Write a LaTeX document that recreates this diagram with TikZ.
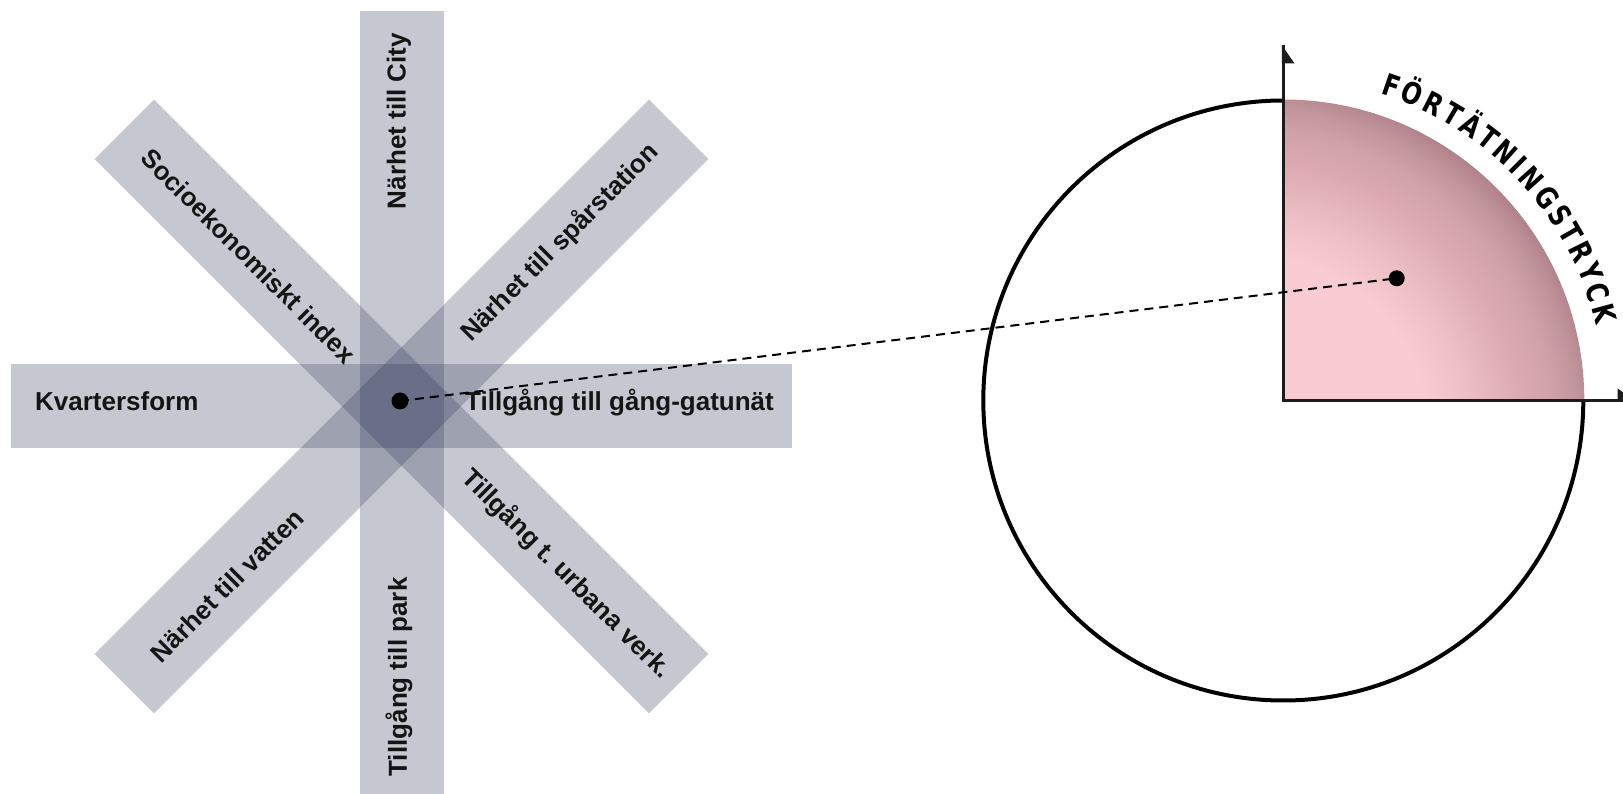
\documentclass[tikz,border=0pt]{standalone}
\usepackage{fontspec}
\setmainfont{Liberation Sans}
\newfontfamily\arcfont[FakeStretch=0.8]{DejaVu Sans}
\usetikzlibrary{decorations.text,calc}
\frenchspacing
\definecolor{barK}{RGB}{50,58,90}
\definecolor{txt}{HTML}{141414}
\definecolor{axisc}{HTML}{1C1C1C}
\definecolor{pkA}{HTML}{F9CBD2}
\definecolor{pkB}{HTML}{EDC0C6}
\definecolor{pkC}{HTML}{DCA9B1}
\definecolor{pkD}{HTML}{D0A2A9}
\definecolor{pkE}{HTML}{C1959C}
\definecolor{pkF}{HTML}{B07F88}
\pgfdeclareradialshading{pinkq}{\pgfpoint{0bp}{0bp}}{color(0bp)=(pkA); color(185bp)=(pkA); color(225bp)=(pkB); color(280bp)=(pkC); color(310bp)=(pkD); color(335bp)=(pkE); color(358bp)=(pkF); color(385bp)=(pkF)}
\begin{document}
\begin{tikzpicture}[x=1pt,y=1pt,
  bar/.style={fill=barK, fill opacity=0.28, draw=none, inner sep=0pt, minimum height=84pt},
  lbl/.style={text=txt, font=\fontsize{26}{30}\selectfont\bfseries, inner sep=0pt},
  dotnode/.style={circle, fill=black, inner sep=0pt, minimum size=#1},
  axisline/.style={draw=axisc, line width=3pt, line join=miter},
  dashline/.style={draw=black, line width=2pt, dash pattern=on 9pt off 6pt}]
\useasboundingbox (0,0) rectangle (1623,793);
\clip (0,0) rectangle (1623,793);
% ---- star of bars ----
\coordinate (sc) at (401.5,386.5);
\node[bar, minimum width=790pt, rotate=90] (vbar) at (401.5,387) {};
\node[bar, minimum width=781pt] (hbar) at (sc) {};
\node[bar, minimum width=784pt, rotate=45] (dbarA) at (sc) {};
\node[bar, minimum width=784pt, rotate=-45] (dbarB) at (sc) {};
% ---- labels ----
\node[lbl, rotate=90] (l1) at (399,672) {Närhet till City};
\node[lbl, rotate=-45] (l2) at (248.5,537) {Socioekonomiskt index};
\node[lbl, rotate=45] (l3) at (560,550.5) {Närhet till spårstation};
\node[lbl, anchor=base west] (l4) at (35,382.5) {Kvartersform};
\node[lbl, anchor=base west] (l5) at (465,382.5) {Tillgång till gång-gatunät};
\node[lbl, rotate=-45] (l6) at (566.5,219) {Tillgång t. urbana verk.};
\node[lbl, rotate=90] (l7) at (399,116) {Tillgång till park};
\node[lbl, rotate=45] (l8) at (227,207.5) {Närhet till vatten};
% ---- quarter disc ----
\coordinate (qc) at (1283.3,392.5);
\begin{scope}
  \clip (qc) -- ++(301,0) arc[start angle=0, end angle=90, radius=301] -- cycle;
  \node[inner sep=0pt, outer sep=0pt] (shd) at ($(qc)+(-40,-40)$) {\pgfuseshading{pinkq}};
\end{scope}
\draw[line width=4pt] (qc) ++(0,300) arc[start angle=90, end angle=360, radius=300];
% ---- axes ----
\coordinate (ytop) at (1283.3,748);
\coordinate (xend) at (1623,392.5);
\draw[axisline] (ytop) -- (qc) -- (xend);
\fill[axisc] (1281.8,748) -- (1294.5,729.5) -- (1281.8,729.5) -- cycle;
\fill[axisc] (1617.7,404.5) -- (1636,391) -- (1617.7,391) -- cycle;
% ---- arc text ----
\path[decorate, decoration={text along path, text={|\arcfont\bfseries\fontsize{30}{33}\selectfont|FÖRTÄTNINGSTRYCK}, text align={fit to path}}]
  (qc) ++(72.5:322) arc[start angle=72.5, end angle=13.5, radius=322];
% ---- dots and dashed link ----
\node[dotnode=17pt] (ldot) at (400,392) {};
\node[dotnode=16pt] (rdot) at (1396.7,514.7) {};
\draw[dashline] (ldot.center) -- (rdot.center);
\end{tikzpicture}
\end{document}
